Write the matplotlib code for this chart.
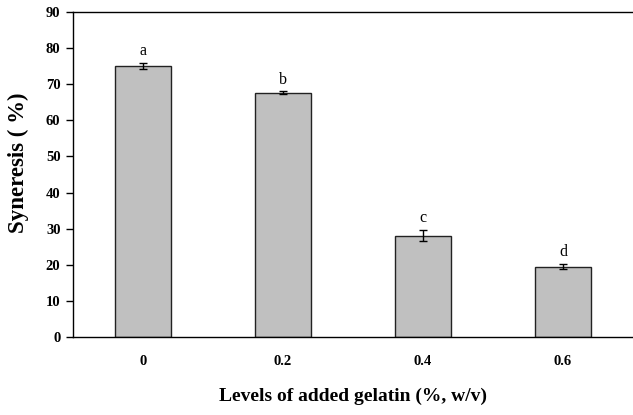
import numpy as np
import matplotlib
matplotlib.use('Agg')
import matplotlib.pyplot as plt

# Data
levels = ['0', '0.2', '0.4', '0.6']
syneresis = [75.0, 67.7, 28.1, 19.5]
errors = [0.9, 0.3, 1.5, 0.7]
letters = ['a', 'b', 'c', 'd']

plt.rcParams['font.family'] = ['Liberation Serif', 'DejaVu Serif']

fig = plt.figure(figsize=(6.33, 4.15), dpi=100)
ax = fig.add_axes([0.1153, 0.188, 0.8847, 0.783])

x = np.arange(len(levels))
ax.bar(x, syneresis, width=0.4, color='#c0c0c0', edgecolor='#222222',
       linewidth=1.0, zorder=2)
ax.errorbar(x, syneresis, yerr=errors, fmt='none', ecolor='black',
            elinewidth=1.0, capsize=3, capthick=1.0, zorder=3)

# significance letters above the error bars
for xi, val, err, lab in zip(x, syneresis, errors, letters):
    ax.text(xi, val + err + 1.0, lab, ha='center', va='bottom', fontsize=11.5)

ax.set_xlim(-0.5, 3.5)
ax.set_ylim(0, 90)
ax.set_yticks(range(0, 91, 10))
ax.set_xticks(x)
ax.set_xticklabels(levels)

for lbl in ax.get_xticklabels() + ax.get_yticklabels():
    lbl.set_fontweight('bold')
    lbl.set_fontsize(10.5)

ax.tick_params(axis='x', length=0, pad=13)
ax.tick_params(axis='y', direction='out', length=5, width=1, pad=4)

ax.spines['right'].set_visible(False)
for s in ['left', 'bottom', 'top']:
    ax.spines[s].set_linewidth(1.0)
    ax.spines[s].set_color('black')

ax.set_xlabel('Levels of added gelatin (%, w/v)', fontsize=14,
              fontweight='bold', labelpad=14)
ax.set_ylabel('Syneresis ( %)', fontsize=16.5, fontweight='bold')
ax.yaxis.label.set_va('center')
ax.yaxis.set_label_coords(-0.098, 0.535)

fig.savefig('out.png', dpi=100)
